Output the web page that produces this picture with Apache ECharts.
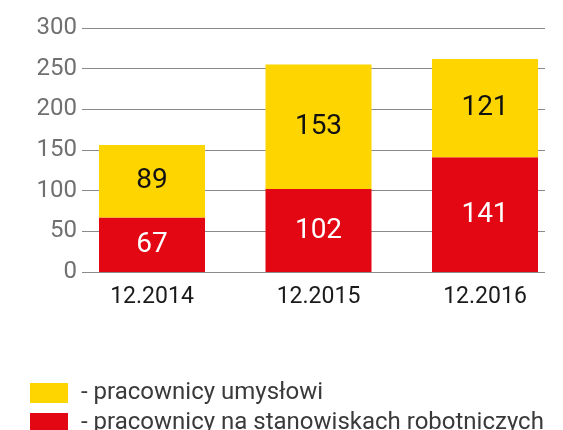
<!DOCTYPE html>
<html><head><meta charset="utf-8">
<script src="https://cdn.jsdelivr.net/npm/echarts@6/dist/echarts.min.js"></script>
<style>html,body{margin:0;padding:0;background:#fff}#c{width:563px;height:430px}</style>
</head><body><div id="c"></div>
<script>
const categories = ['12.2014', '12.2015', '12.2016'];
const robotnicy = [67, 102, 141];
const umyslowi = [89, 153, 121];
const yTicks = [0, 50, 100, 150, 200, 250, 300];
const nameUmyslowi = 'pracownicy umysłowi';
const nameRobotnicy = 'pracownicy na stanowiskach robotniczych';

const FONT = 'Roboto';
const legendBase = {
  orient: 'vertical', left: 30, padding: 0, itemWidth: 38, itemHeight: 20, itemGap: 10,
  icon: 'rect', formatter: n => '- ' + n,
  textStyle: {fontFamily: FONT, fontSize: 24, color: '#3a3a3a', padding: [0, 0, 0, 8]}
};
const chart = echarts.init(document.getElementById('c'), null, {renderer: 'canvas'});
chart.setOption({
  animation: false,
  backgroundColor: '#fff',
  grid: [
    {left: 82, right: 18, top: 28, height: 244, outerBoundsMode: 'none'},
    {left: 68.75, width: 499.5, top: 28, height: 244, outerBoundsMode: 'none'}
  ],
  legend: [
    Object.assign({}, legendBase, {top: 381, data: [nameUmyslowi]}),
    Object.assign({}, legendBase, {top: 411, data: [nameRobotnicy]})
  ],
  xAxis: [
    {gridIndex: 0, type: 'category', data: categories, show: false},
    {gridIndex: 1, type: 'category', data: categories,
     axisLine: {show: false}, axisTick: {show: false},
     axisLabel: {fontFamily: FONT, fontSize: 23, color: '#1a1a1a', margin: 14}}
  ],
  yAxis: [
    {gridIndex: 0, type: 'value', min: yTicks[0], max: yTicks[yTicks.length - 1], interval: 50,
     axisLine: {show: false}, axisTick: {show: false},
     axisLabel: {fontFamily: FONT, fontSize: 24, color: '#707070', margin: 5,
       formatter: v => yTicks.includes(v) ? String(v) : ''},
     splitLine: {show: true, lineStyle: {color: '#8a8a8a', width: 1}}},
    {gridIndex: 1, type: 'value', min: yTicks[0], max: yTicks[yTicks.length - 1], interval: 50, show: false}
  ],
  series: [
    {name: nameRobotnicy, type: 'bar', stack: 's', xAxisIndex: 1, yAxisIndex: 1,
     data: robotnicy, barWidth: 106, itemStyle: {color: '#E30613'},
     label: {show: true, position: 'inside', color: '#fff', fontFamily: FONT, fontSize: 28}},
    {name: nameUmyslowi, type: 'bar', stack: 's', xAxisIndex: 1, yAxisIndex: 1,
     data: umyslowi, barWidth: 106, itemStyle: {color: '#FFD500'},
     label: {show: true, position: 'inside', color: '#111', fontFamily: FONT, fontSize: 28}}
  ]
});
</script></body></html>
